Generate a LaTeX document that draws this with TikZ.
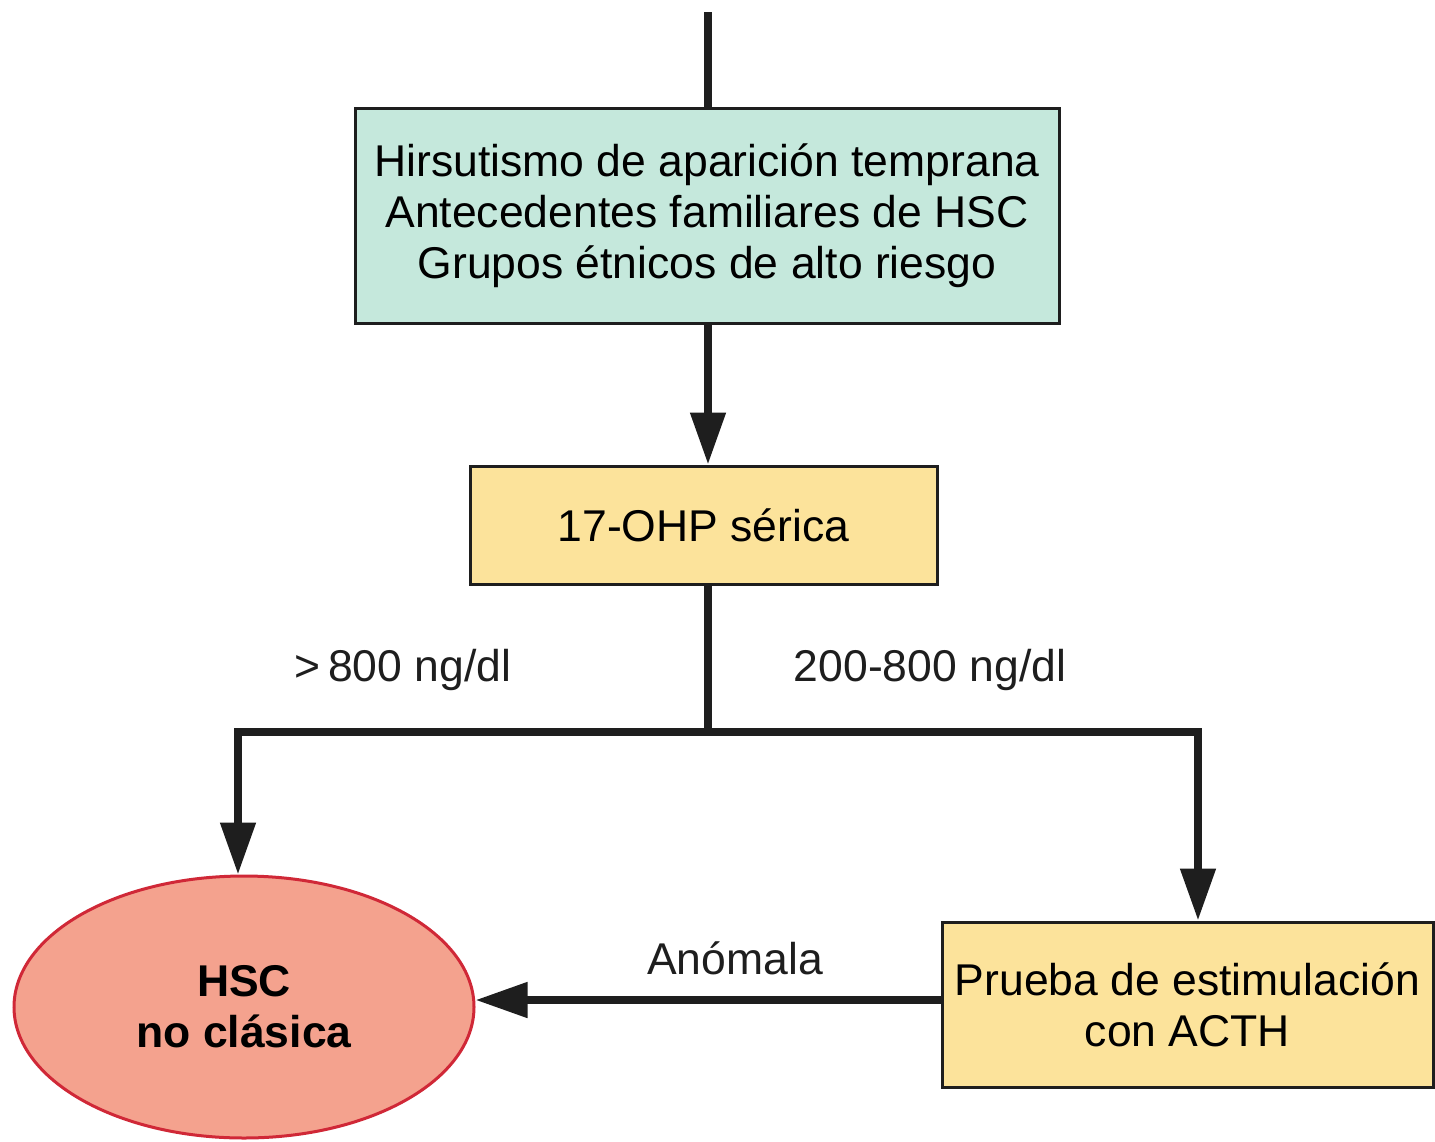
\documentclass[tikz,border=0pt]{standalone}
\usepackage{fontspec}
\setmainfont{Liberation Sans}
\usetikzlibrary{arrows.meta,shapes.geometric}
\definecolor{tealfill}{RGB}{197,232,220}
\definecolor{yelfill}{RGB}{252,227,155}
\definecolor{salfill}{RGB}{244,162,142}
\definecolor{redline}{RGB}{208,40,55}
\definecolor{ink}{RGB}{30,30,30}
\tikzset{
  flowbox/.style={draw=ink, line width=3pt, inner sep=0pt, align=center,
     font=\fontsize{44.5}{51}\selectfont},
  flowline/.style={draw=ink, line width=8pt},
  flowarrow/.style={flowline, -{Triangle[width=34pt,length=52pt]}},
  lbl/.style={font=\fontsize{44.5}{51}\selectfont, text=ink, inner sep=0pt}
}
\begin{document}
\begin{tikzpicture}[x=1pt,y=-1pt]
\useasboundingbox (0,0) rectangle (1435,1141);
\fill[white] (0,0) rectangle (1435,1141);
\node[flowbox, fill=tealfill, minimum width=704pt, minimum height=215pt] (top) at (707,215.5)
  {Hirsutismo de aparición temprana\\Antecedentes familiares de HSC\\Grupos étnicos de alto riesgo};
\node[flowbox, fill=yelfill, minimum width=467pt, minimum height=118pt] (ohp) at (703.5,525) {17-OHP sérica};
\node[flowbox, fill=yelfill, minimum width=491pt, minimum height=165pt] (acth) at (1187.5,1004.5)
  {Prueba de estimulación\\con ACTH};
\node[ellipse, draw=redline, fill=salfill, line width=3pt, minimum width=460pt, minimum height=262pt,
  inner sep=0pt, align=center, font=\fontsize{44.5}{51}\selectfont\bfseries] (hsc) at (244,1007) {HSC\\no clásica};
\coordinate (start) at (708,12);
\coordinate (j) at (708,732);
\draw[flowline] (start) -- (top.north -| start);
\draw[flowarrow] (top.south -| start) -- (ohp.north -| start);
\draw[flowline] (ohp.south -| j) -- (j);
\draw[flowarrow] (j) -| ([xshift=-6pt]hsc.north);
\draw[flowarrow] (j) -| ([xshift=10.5pt]acth.north);
\draw[flowarrow] (acth.west |- 0,1000) -- (hsc.east |- 0,1000);
\node[lbl] (l1) at (403,670) {>\,800 ng/dl};
\node[lbl] (l2) at (930,670) {200-800 ng/dl};
\node[lbl] (l3) at (735,958) {Anómala};
\end{tikzpicture}
\end{document}
